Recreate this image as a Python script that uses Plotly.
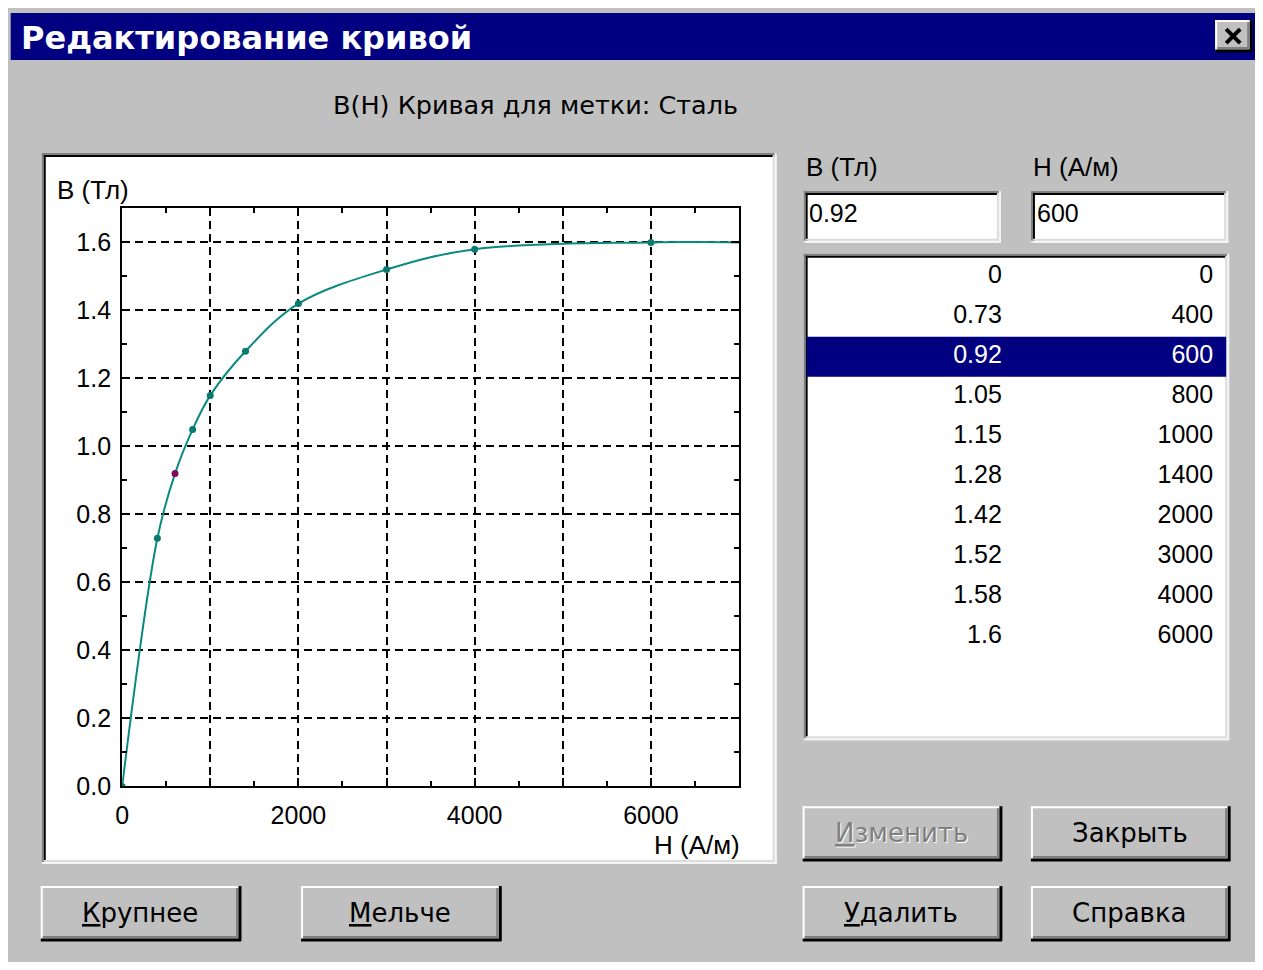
import plotly.graph_objects as go

# ---------------- data ----------------
H_VALUES = [0, 400, 600, 800, 1000, 1400, 2000, 3000, 4000, 6000]
B_VALUES = [0, 0.73, 0.92, 1.05, 1.15, 1.28, 1.42, 1.52, 1.58, 1.6]
SELECTED = 2  # highlighted row / point (B=0.92, H=600)

X_TICKS = [0, 1000, 2000, 3000, 4000, 5000, 6000, 7000]
X_TICK_TEXT = ["0", "", "2000", "", "4000", "", "6000", ""]
Y_TICKS = [0.0, 0.2, 0.4, 0.6, 0.8, 1.0, 1.2, 1.4, 1.6]
Y_TICK_TEXT = ["0.0", "0.2", "0.4", "0.6", "0.8", "1.0", "1.2", "1.4", "1.6"]
X_RANGE = [0, 7000]
Y_RANGE = [0, 1.7]

WINDOW_TITLE = "Редактирование кривой"
SUBTITLE = "B(H) Кривая для метки: Сталь"
B_LABEL = "B (Тл)"
H_LABEL = "H (А/м)"
BUTTONS_LEFT = ["Крупнее", "Мельче"]
BUTTONS_RIGHT = ["Изменить", "Закрыть", "Удалить", "Справка"]

# ---------------- layout helpers ----------------
W, Hh = 1247, 954
# mapping of screen pixels to figure pixels (calibrated against the rendered page)
SX, CX = 0.9932, 16.4
SY, CY = 0.9865, 8.0
GRAY = "#c0c0c0"
NAVY = "#000080"
TEAL = "#0a8a80"
NUMF = "Liberation Sans, Arial, sans-serif"
WIDE = "DejaVu Sans, Liberation Sans, sans-serif"


def px(x):
    return (x / SX - CX) / W


def py(y):
    return 1 - (y / SY - CY) / Hh


shapes = []
annotations = []


def rect(x0, y0, x1, y1, fill):
    shapes.append(dict(type="rect", xref="paper", yref="paper",
                       x0=px(x0), x1=px(x1), y0=py(y1), y1=py(y0),
                       fillcolor=fill, line=dict(width=0), layer="below"))


def hline(x0, x1, y, color, w=2):
    shapes.append(dict(type="line", xref="paper", yref="paper",
                       x0=px(x0), x1=px(x1), y0=py(y), y1=py(y),
                       line=dict(color=color, width=w), layer="below"))


def vline(x, y0, y1, color, w=2):
    shapes.append(dict(type="line", xref="paper", yref="paper",
                       x0=px(x), x1=px(x), y0=py(y0), y1=py(y1),
                       line=dict(color=color, width=w), layer="below"))


def sunken(x0, y0, x1, y1):
    rect(x0, y0, x1, y1, "white")
    hline(x0, x1, y0 + 1, "#808080")
    vline(x0 + 1, y0, y1, "#808080")
    hline(x0 + 2, x1 - 2, y0 + 3, "black")
    vline(x0 + 3, y0 + 2, y1 - 2, "black")
    hline(x0, x1, y1 - 1, "#f4f4f4")
    vline(x1 - 1, y0, y1, "#f4f4f4")
    hline(x0 + 2, x1 - 2, y1 - 3, "#dcdcdc")
    vline(x1 - 3, y0 + 2, y1 - 2, "#dcdcdc")


def raised(x0, y0, x1, y1):
    rect(x0, y0, x1, y1, GRAY)
    hline(x0, x1, y0 + 1, "white")
    vline(x0 + 1, y0, y1, "white")
    hline(x0, x1, y1 - 1, "black", 3)
    vline(x1 - 1, y0, y1, "black", 3)
    hline(x0 + 2, x1 - 3, y1 - 4, "#808080")
    vline(x1 - 4, y0 + 2, y1 - 3, "#808080")


def text(x, y, s, size=24, color="black", family=WIDE, anchor="left"):
    annotations.append(dict(xref="paper", yref="paper", x=px(x), y=py(y), text=s,
                            showarrow=False, xanchor=anchor, yanchor="middle",
                            font=dict(size=size, color=color, family=family)))


def mnemonic(s):
    return '<span style="text-decoration:underline">' + s[0] + "</span>" + s[1:]


# ---------------- window chrome ----------------
rect(12, 13, 1256, 60, NAVY)
text(20, 38, "<b>" + WINDOW_TITLE + "</b>", size=32, color="white", family=WIDE)
raised(1215, 20, 1252, 52)
shapes.append(dict(type="line", xref="paper", yref="paper", x0=px(1226), y0=py(29), x1=px(1240), y1=py(43),
                   line=dict(color="black", width=4), layer="below"))
shapes.append(dict(type="line", xref="paper", yref="paper", x0=px(1226), y0=py(43), x1=px(1240), y1=py(29),
                   line=dict(color="black", width=4), layer="below"))

text(536, 105, SUBTITLE, size=25.5, anchor="center")

# chart panel
sunken(43, 153, 777, 865)
text(56, 190, B_LABEL, size=26, family=NUMF)
text(742, 846, H_LABEL, size=26, family=NUMF, anchor="right")

# input fields
text(804, 167, B_LABEL, size=26, family=NUMF)
text(1031, 167, H_LABEL, size=26, family=NUMF)
sunken(804, 191, 1001, 243)
sunken(1031, 191, 1228, 243)
text(807, 213, f"{B_VALUES[SELECTED]:g}", size=25, family=NUMF)
text(1035, 213, f"{H_VALUES[SELECTED]:g}", size=25, family=NUMF)

# list box
sunken(804, 254, 1229, 741)
LIST_X0, LIST_X1 = 807, 1226
ROW_TOP, ROW_H = 257, 40
LIST_Y1 = 738
shapes.append(dict(type="rect", xref="paper", yref="y2",
                   x0=px(LIST_X0), x1=px(LIST_X1), y0=SELECTED - 0.5, y1=SELECTED + 0.5,
                   fillcolor=NAVY, line=dict(width=0), layer="below"))

# buttons
BTN_LEFT_POS = [(42, 887, 242, 942), (302, 887, 502, 942)]
for (x0, y0, x1, y1), label in zip(BTN_LEFT_POS, BUTTONS_LEFT):
    raised(x0, y0, x1, y1)
    text((x0 + x1) / 2 - 1, (y0 + y1) / 2 - 1, mnemonic(label), size=26, anchor="center")

BTN_RIGHT_POS = [(803, 807, 1002, 862), (1031, 807, 1230, 862),
                 (803, 887, 1002, 942), (1031, 887, 1230, 942)]
for i, ((x0, y0, x1, y1), label) in enumerate(zip(BTN_RIGHT_POS, BUTTONS_RIGHT)):
    raised(x0, y0, x1, y1)
    cx, cy = (x0 + x1) / 2 - 1, (y0 + y1) / 2 - 1
    if i == 0:  # disabled
        text(cx + 1.5, cy + 1.5, mnemonic(label), size=26, color="white", anchor="center")
        text(cx, cy, mnemonic(label), size=26, color="#808080", anchor="center")
    elif i == 2:
        text(cx, cy, mnemonic(label), size=26, anchor="center")
    else:
        text(cx, cy, label, size=26, anchor="center")

# ---------------- traces ----------------
fig = go.Figure()

curve_x = H_VALUES + [X_RANGE[1]]
curve_y = B_VALUES + [B_VALUES[-1]]
fig.add_trace(go.Scatter(x=curve_x, y=curve_y, mode="lines",
                         line=dict(color=TEAL, width=2, shape="spline", smoothing=1.0),
                         hoverinfo="skip", showlegend=False))
marker_colors = ["#7a0a5a" if i == SELECTED else "#0a7a70" for i in range(len(H_VALUES))]
fig.add_trace(go.Scatter(x=H_VALUES, y=B_VALUES, mode="markers",
                         marker=dict(color=marker_colors, size=7),
                         showlegend=False))

# list rows (on an invisible second axis pair)
rows = list(range(len(H_VALUES)))
row_colors = ["white" if i == SELECTED else "black" for i in rows]
COL_B_RIGHT, COL_H_RIGHT = 1002, 1213
fig.add_trace(go.Scatter(x=[COL_B_RIGHT] * len(rows), y=rows, mode="text",
                         text=[f"{b:g}" for b in B_VALUES], textposition="middle left",
                         textfont=dict(size=25, family=NUMF, color=row_colors),
                         xaxis="x2", yaxis="y2", showlegend=False, hoverinfo="skip"))
fig.add_trace(go.Scatter(x=[COL_H_RIGHT] * len(rows), y=rows, mode="text",
                         text=[f"{h:g}" for h in H_VALUES], textposition="middle left",
                         textfont=dict(size=25, family=NUMF, color=row_colors),
                         xaxis="x2", yaxis="y2", showlegend=False, hoverinfo="skip"))

axis_common = dict(showline=True, linecolor="black", linewidth=2, mirror="ticks",
                   ticks="inside", ticklen=8, tickwidth=2, tickcolor="black",
                   showgrid=True, gridcolor="black", gridwidth=2, griddash="8px,5px",
                   zeroline=False, fixedrange=True,
                   tickfont=dict(size=25, family=NUMF, color="black"))

fig.update_layout(
    width=W, height=Hh, autosize=False,
    margin=dict(l=0, r=0, t=0, b=0),
    paper_bgcolor=GRAY, plot_bgcolor="rgba(0,0,0,0)",
    showlegend=False,
    xaxis=dict(domain=[px(123.3), px(739.5)], range=X_RANGE,
               tickmode="array", tickvals=X_TICKS, ticktext=X_TICK_TEXT,
               ticklabelstandoff=6,
               minor=dict(dtick=500, tick0=0, ticks="inside", ticklen=5, tickwidth=2,
                          tickcolor="black", showgrid=False),
               **axis_common),
    yaxis=dict(domain=[py(787.3), py(208.5)], range=Y_RANGE,
               tickmode="array", tickvals=Y_TICKS, ticktext=Y_TICK_TEXT,
               ticklabelstandoff=4,
               minor=dict(dtick=0.1, tick0=0, ticks="inside", ticklen=5, tickwidth=2,
                          tickcolor="black", showgrid=False),
               **axis_common),
    xaxis2=dict(domain=[px(LIST_X0), px(LIST_X1)], range=[LIST_X0, LIST_X1],
                visible=False, fixedrange=True),
    yaxis2=dict(domain=[py(LIST_Y1), py(ROW_TOP)],
                range=[(LIST_Y1 - ROW_TOP) / ROW_H - 0.5, -0.5],
                visible=False, fixedrange=True),
    shapes=shapes,
    annotations=annotations,
)

fig.write_html("out.html", config={"displayModeBar": False})
